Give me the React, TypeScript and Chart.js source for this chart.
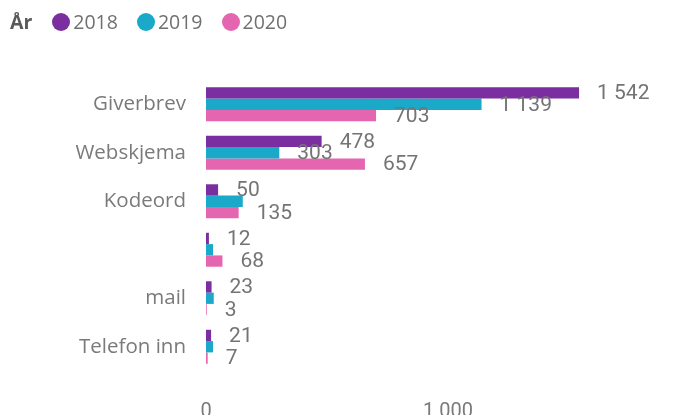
import React, { useEffect, useRef } from "react";
import { Chart, registerables } from "chart.js";

Chart.register(...registerables);

const CATEGORIES = ["Giverbrev", "Webskjema", "Kodeord", "", "mail", "Telefon inn"];
const YEARS = ["2018", "2019", "2020"];
const VALUES_2018 = [1542, 478, 50, 12, 23, 21];
const VALUES_2019 = [1139, 303, 152, 29, 32, 29];
const VALUES_2020 = [703, 657, 135, 68, 3, 7];
const SHOW_2018 = [true, true, true, true, true, true];
const SHOW_2019 = [true, true, false, false, false, false];
const SHOW_2020 = [true, true, true, true, true, true];
const COLORS = ["#7B2E9F", "#1AA9C9", "#E566B0"];
const X_TICKS = [0, 1000];
const X_MAX = 1980;
const LEGEND_TITLE = "År";

const fmt = (n: number) => String(n).replace(/\B(?=(\d{3})+(?!\d))/g, " ");

const SERIES = [VALUES_2018, VALUES_2019, VALUES_2020];
const SHOWS = [SHOW_2018, SHOW_2019, SHOW_2020];

const valueLabels = {
  id: "valueLabels",
  afterDatasetsDraw(chart: any) {
    const ctx = chart.ctx;
    ctx.save();
    ctx.font = "21px Roboto";
    ctx.fillStyle = "#747474";
    ctx.textBaseline = "middle";
    ctx.textAlign = "left";
    chart.data.datasets.forEach((ds: any, di: number) => {
      const meta = chart.getDatasetMeta(di);
      meta.data.forEach((bar: any, i: number) => {
        if (!SHOWS[di][i]) return;
        ctx.fillText(fmt(ds.data[i]), bar.x + 18, bar.y + 1);
      });
    });
    ctx.restore();
  },
};

export default function App() {
  const ref = useRef<HTMLCanvasElement | null>(null);

  useEffect(() => {
    if (!ref.current) return;
    const chart = new Chart(ref.current, {
      type: "bar",
      data: {
        labels: CATEGORIES,
        datasets: YEARS.map((y, i) => ({
          label: y,
          data: SERIES[i],
          backgroundColor: COLORS[i],
          borderWidth: 0,
          categoryPercentage: 0.7,
          barPercentage: 1.0,
        })),
      },
      options: {
        indexAxis: "y",
        animation: false,
        responsive: false,
        maintainAspectRatio: false,
        layout: { padding: { top: 80, right: 0, bottom: 0, left: 0 } },
        plugins: {
          legend: { display: false },
          tooltip: { enabled: false },
        },
        scales: {
          x: {
            type: "linear",
            min: 0,
            max: X_MAX,
            grid: { display: false, drawTicks: false },
            border: { display: false },
            afterBuildTicks: (s: any) => {
              s.ticks = X_TICKS.map((v) => ({ value: v }));
            },
            ticks: {
              padding: 29,
              color: "#7a7a7a",
              font: { family: "Roboto", size: 20 },
              callback: (v: any) => fmt(Number(v)),
            },
          },
          y: {
            type: "category",
            grid: { display: false, drawTicks: false },
            border: { display: false },
            afterFit: (s: any) => {
              s.width = 206;
            },
            ticks: {
              padding: 20,
              color: "#7a7a7a",
              font: { family: "Open Sans", size: 20.5 },
            },
          },
        },
      },
      plugins: [valueLabels],
    });
    return () => chart.destroy();
  }, []);

  return (
    <div style={{ position: "absolute", left: 0, top: 0, width: 685, height: 415, overflow: "hidden", background: "#fff" }}>
      <canvas ref={ref} width={685} height={453} style={{ display: "block", width: 685, height: 453 }} />
      <div
        style={{
          position: "absolute",
          left: 10,
          top: 9,
          display: "flex",
          alignItems: "center",
          fontFamily: "'Open Sans', sans-serif",
          fontSize: 19.5,
          color: "#707070",
          lineHeight: "26px",
        }}
      >
        <span style={{ fontWeight: 700, color: "#5a5a5a", marginRight: 20 }}>{LEGEND_TITLE}</span>
        {YEARS.map((y, i) => (
          <span key={y} style={{ display: "flex", alignItems: "center", marginRight: 19 }}>
            <span
              style={{
                display: "inline-block",
                width: 18,
                height: 18,
                borderRadius: "50%",
                background: COLORS[i],
                marginRight: 3,
              }}
            />
            <span>{y}</span>
          </span>
        ))}
      </div>
    </div>
  );
}
